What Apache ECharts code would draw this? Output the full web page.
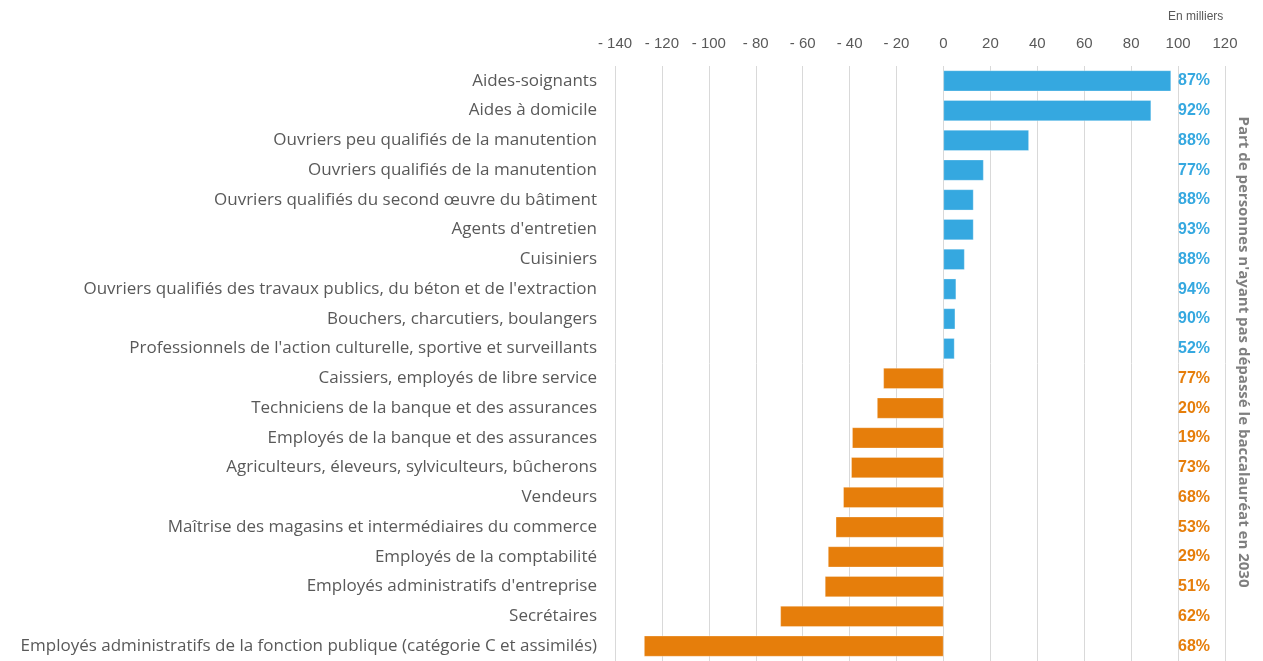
<!DOCTYPE html>
<html>
<head>
<meta charset="utf-8">
<script src="https://cdn.jsdelivr.net/npm/echarts@6/dist/echarts.min.js"></script>
<style>
  html, body { margin: 0; padding: 0; background: #fff; }
  #chart { width: 1263px; height: 661px; }
</style>
</head>
<body>
<div id="chart"></div>
<script>
// métiers, du haut vers le bas
const categories = [
  'Aides-soignants',
  'Aides à domicile',
  'Ouvriers peu qualifiés de la manutention',
  'Ouvriers qualifiés de la manutention',
  'Ouvriers qualifiés du second œuvre du bâtiment',
  "Agents d'entretien",
  'Cuisiniers',
  "Ouvriers qualifiés des travaux publics, du béton et de l'extraction",
  'Bouchers, charcutiers, boulangers',
  "Professionnels de l'action culturelle, sportive et surveillants",
  'Caissiers, employés de libre service',
  'Techniciens de la banque et des assurances',
  'Employés de la banque et des assurances',
  'Agriculteurs, éleveurs, sylviculteurs, bûcherons',
  'Vendeurs',
  'Maîtrise des magasins et intermédiaires du commerce',
  'Employés de la comptabilité',
  "Employés administratifs d'entreprise",
  'Secrétaires',
  'Employés administratifs de la fonction publique (catégorie C et assimilés)'
];

// variation d'effectifs, en milliers
const values = [97, 88.5, 36.4, 17.1, 12.8, 12.8, 9, 5.4, 5, 4.7,
  -25.6, -28.3, -38.9, -39.3, -42.7, -45.9, -49.2, -50.5, -69.5, -127.6];

// part de personnes n'ayant pas dépassé le bac en 2030
const shares = ['87%', '92%', '88%', '77%', '88%', '93%', '88%', '94%', '90%', '52%',
  '77%', '20%', '19%', '73%', '68%', '53%', '29%', '51%', '62%', '68%'];

const tickMin = -140, tickMax = 120, tickStep = 20;

const blue = '#35a8e0';
const orange = '#e67e0b';
const grey = '#595959';
const font = 'Liberation Sans';

var chart = echarts.init(document.getElementById('chart'));

chart.setOption({
  animation: false,
  textStyle: { fontFamily: font },
  grid: { left: 615, right: 38, top: 66, bottom: -2, containLabel: false },
  xAxis: {
    type: 'value',
    position: 'top',
    min: tickMin,
    max: tickMax,
    interval: tickStep,
    axisLine: { show: false },
    axisTick: { show: false },
    splitLine: { lineStyle: { color: '#d9d9d9', width: 1 } },
    axisLabel: {
      color: grey,
      fontSize: 15,
      margin: 15,
      formatter: v => v < 0 ? '- ' + (-v) : String(v)
    }
  },
  yAxis: [
    {
      type: 'category',
      data: categories,
      inverse: true,
      axisLine: { show: false },
      axisTick: { show: false },
      axisLabel: { color: grey, fontSize: 17, margin: 18, fontFamily: 'Open Sans' }
    },
    {
      type: 'category',
      data: shares,
      inverse: true,
      position: 'right',
      axisLine: { show: false },
      axisTick: { show: false },
      axisLabel: {
        inside: true,
        margin: 15,
        fontSize: 16,
        fontWeight: 'bold',
        color: (v, i) => values[i] < 0 ? orange : blue
      }
    }
  ],
  series: [
    {
      type: 'bar',
      data: values,
      barCategoryGap: '30%',
      itemStyle: {
        color: p => p.value < 0 ? orange : blue,
        borderColor: 'rgba(255,255,255,0.6)',
        borderWidth: 0.5
      }
    }
  ],
  graphic: [
    {
      type: 'text',
      x: 1168,
      y: 11,
      style: { text: 'En milliers', fill: grey, fontSize: 12, fontFamily: font }
    },
    {
      type: 'text',
      x: 1243,
      y: 352,
      rotation: -Math.PI / 2,
      style: {
        text: "Part de personnes n'ayant pas dépassé le baccalauréat en 2030",
        fill: '#7f7f7f',
        fontSize: 15,
        fontWeight: 'bold',
        fontFamily: 'Open Sans',
        align: 'center',
        verticalAlign: 'middle'
      }
    }
  ]
});
</script>
</body>
</html>
